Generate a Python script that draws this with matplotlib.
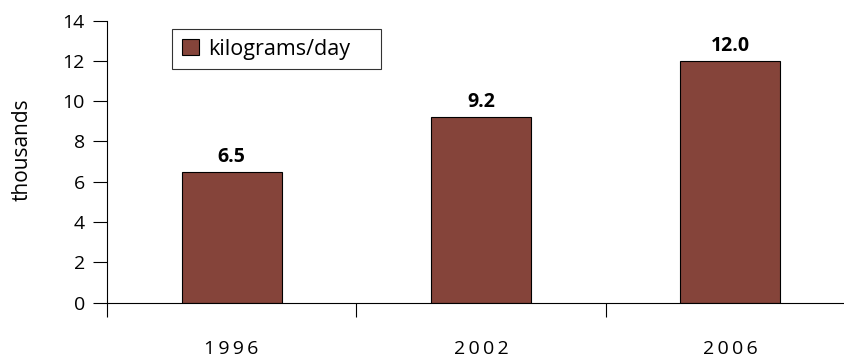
import matplotlib
matplotlib.use("Agg")
import matplotlib.pyplot as plt
import numpy as np

# DATA
years = ["1996", "2002", "2006"]
values = [6.5, 9.2, 12.0]
series_name = "kilograms/day"
y_ticks = [0, 2, 4, 6, 8, 10, 12, 14]

plt.rcParams['font.family'] = ['Open Sans', 'DejaVu Sans']

bar_color = "#85443A"
thin = "\u2009"

fig = plt.figure(figsize=(8.45, 3.6), dpi=100)
ax = fig.add_axes([107 / 845, 57.5 / 360, 748 / 845, 282 / 360])

x = np.arange(len(years))
bars = ax.bar(x, values, width=0.4, color=bar_color, edgecolor="black",
              linewidth=0.8, label=series_name)

# value labels above bars
for xi, v in zip(x, values):
    ax.text(xi, v + 0.5, f"{v:.1f}", ha="center", va="baseline",
            fontsize=14, fontweight="bold")

ax.set_xlim(-0.5, len(years) - 0.5)
ax.set_ylim(0, 14)

# tick marks at category boundaries, labels at centers
ax.set_xticks(x)
ax.set_xticklabels([thin.join(y) for y in years], fontsize=14)
ax.tick_params(axis="x", which="major", length=0, pad=27)
ax.set_xticks(np.arange(-0.5, len(years), 1.0), minor=True)
ax.tick_params(axis="x", which="minor", length=10, width=0.8, direction="out")

ax.set_yticks(y_ticks)
ax.set_yticklabels([str(t) for t in y_ticks], fontsize=14)
ax.tick_params(axis="y", length=10, width=0.8, direction="out", pad=6)

ax.spines["top"].set_visible(False)
ax.spines["right"].set_visible(False)
ax.spines["left"].set_linewidth(0.8)
ax.spines["bottom"].set_linewidth(0.8)

fig.text(22 / 845, 1 - 150 / 360, "thousands", rotation=90, ha="center",
         va="center", fontsize=15)

leg = ax.legend(loc="upper left",
                bbox_to_anchor=(65 / 748, 1 - 51.5 / 282, 209 / 748, 43 / 282),
                mode="expand", fontsize=15.5, frameon=True, fancybox=False,
                handlelength=0.79, handleheight=0.79, borderpad=0.45,
                handletextpad=0.42, borderaxespad=0)
leg.get_frame().set_edgecolor("black")
leg.get_frame().set_linewidth(0.8)

fig.savefig("out.png", dpi=100)
